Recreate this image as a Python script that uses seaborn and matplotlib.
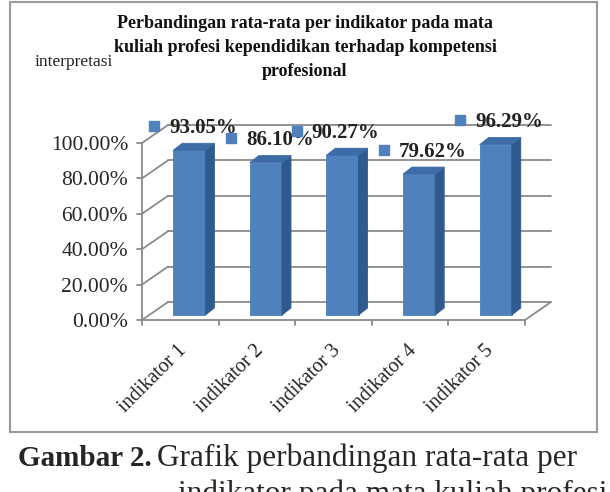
import matplotlib
matplotlib.use("Agg")
import matplotlib.pyplot as plt
from matplotlib.patches import Polygon, Rectangle
from matplotlib.transforms import ScaledTranslation
import seaborn as sns
import pandas as pd

# data
indikator = ["indikator 1", "indikator 2", "indikator 3", "indikator 4", "indikator 5"]
nilai = [0.9305, 0.8610, 0.9027, 0.7962, 0.9629]
label_nilai = ["93.05%", "86.10%", "90.27%", "79.62%", "96.29%"]
y_ticks = [0.0, 0.2, 0.4, 0.6, 0.8, 1.0]

judul = ("Perbandingan rata-rata per indikator pada mata\n"
         "kuliah profesi kependidikan terhadap kompetensi\n"
         "profesional")

sns.set_theme(style="white")
plt.rcParams['font.family'] = ['Liberation Serif', 'DejaVu Serif']

W, H = 610, 492
fig = plt.figure(figsize=(W / 100, H / 100), dpi=100)

# frame around the chart
fig.patches.append(Rectangle((10 / W, 1 - 432 / H), 587 / W, 430 / H,
                             transform=fig.transFigure, fill=False,
                             edgecolor="#9a9a9a", lw=1.5))

# front plane of the 3D plot, in pixels
x0, x1, y0, y1 = 142, 525, 320, 143
ax = fig.add_axes([x0 / W, 1 - y0 / H, (x1 - x0) / W, (y0 - y1) / H])

df = pd.DataFrame({"indikator": indikator, "nilai": nilai})
sns.barplot(data=df, x="indikator", y="nilai", color="#4F81BD", saturation=1,
            width=0.42, ax=ax, zorder=3)
ax.set_xlim(-0.5, 4.5)
ax.set_ylim(0, 1)

pxx = (x1 - x0) / 5.0
pxy = (y0 - y1) / 1.0
bx, by = 26 / pxx, 18 / pxy      # back wall offset
mx, my = 9 / pxx, 5 / pxy        # bar plane offset
dx, dy = 9 / pxx, 7 / pxy        # bar depth

grid_c = "#8a8a8a"
for v in y_ticks:
    ax.plot([-0.5 + bx, 4.5 + bx], [v + by, v + by], color=grid_c, lw=1.3,
            clip_on=False, zorder=1)
    ax.plot([-0.5, -0.5 + bx], [v, v + by], color=grid_c, lw=1.3,
            clip_on=False, zorder=1)
    ax.plot([-0.5 - 0.06, -0.5], [v, v], color=grid_c, lw=1.3, clip_on=False)
# floor
ax.plot([-0.5, 4.5], [0, 0], color=grid_c, lw=1.3, clip_on=False, zorder=2)
ax.plot([4.5, 4.5 + bx], [0, by], color=grid_c, lw=1.3, clip_on=False, zorder=2)
ax.plot([-0.5, -0.5], [0, 1], color=grid_c, lw=1.3, clip_on=False, zorder=2)
for t in range(6):
    ax.plot([t - 0.5, t - 0.5], [0, -0.03], color=grid_c, lw=1.3, clip_on=False)

# make the bars 3D
for p in list(ax.patches):
    x, w, h = p.get_x() + mx, p.get_width(), p.get_height()
    p.set_x(x)
    p.set_y(my)
    p.set_edgecolor("#4A7EBB")
    p.set_linewidth(0.6)
    p.set_clip_on(False)
    side = Polygon([(x + w, my), (x + w + dx, my + dy), (x + w + dx, my + h + dy),
                    (x + w, my + h)], closed=True, facecolor="#2F5A8E",
                   edgecolor="#2F5A8E", lw=0.6, zorder=3, clip_on=False)
    top = Polygon([(x, my + h), (x + dx, my + h + dy), (x + w + dx, my + h + dy),
                   (x + w, my + h)], closed=True, facecolor="#3D6CA6",
                  edgecolor="#3D6CA6", lw=0.6, zorder=3, clip_on=False)
    ax.add_patch(side)
    ax.add_patch(top)

# data labels with legend-key squares
nudge = [0.0, 0.0, -0.14, 0.0, 0.0]
for i, (v, lab) in enumerate(zip(nilai, label_nilai)):
    tx = i - 0.21 + mx - 0.05 + nudge[i]
    ty = v + 0.155
    ax.text(tx, ty, lab, fontsize=15, fontweight="bold", color="#222222",
            ha="left", va="center", zorder=5, clip_on=False)
    ax.plot([tx - 0.2], [ty + 0.01], marker="s", ms=7, color="#4F81BD",
            clip_on=False, zorder=5)

ax.set_yticks(y_ticks)
ax.set_yticklabels([f"{v * 100:.2f}%" for v in y_ticks], fontsize=15.5)
ax.set_xticks(range(5))
ax.set_xticklabels(indikator, rotation=45, ha="right", rotation_mode="anchor",
                   fontsize=14.5)
ax.tick_params(axis="y", pad=10, length=0)
ax.tick_params(axis="x", pad=8, length=0)
shift = ScaledTranslation(-3 / 100, -10 / 100, fig.dpi_scale_trans)
for lab in ax.get_xticklabels():
    lab.set_transform(lab.get_transform() + shift)
ax.set_xlabel("")
ax.set_ylabel("")
for s in ax.spines.values():
    s.set_visible(False)
ax.patch.set_alpha(0)

fig.text(305 / W, 1 - 15 / H, judul, ha="center", va="top", fontsize=13,
         fontweight="bold", linespacing=1.55, color="#111111")
fig.text(35 / W, 1 - 62 / H, "interpretasi", ha="left", va="center",
         fontsize=12.5, color="#222222")

# caption
fig.text(18 / W, 1 - 458 / H, "Gambar 2.", fontsize=21, fontweight="bold",
         ha="left", va="center")
fig.text(157 / W, 1 - 458 / H, "Grafik perbandingan rata-rata per",
         fontsize=22.5, ha="left", va="center")
fig.text(178 / W, 1 - 494 / H, "indikator pada mata kuliah profesi",
         fontsize=22.5, ha="left", va="center")

fig.savefig("out.png", dpi=100)
